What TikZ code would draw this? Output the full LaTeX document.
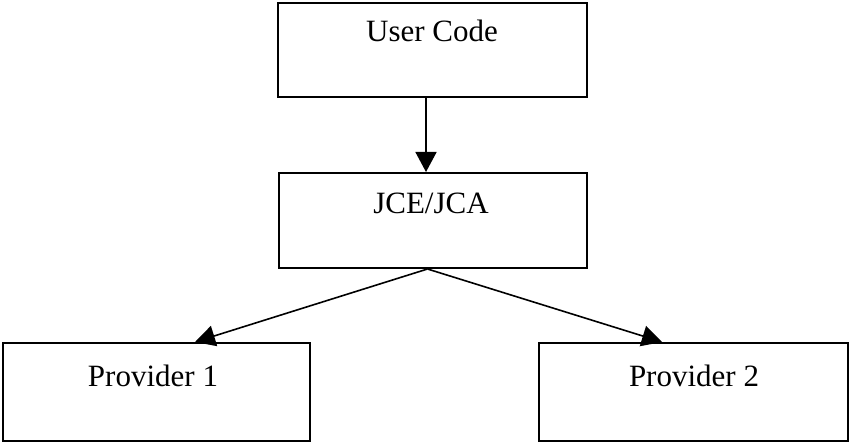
\documentclass[tikz,border=0pt]{standalone}
\usepackage{fontspec}
\setmainfont{Liberation Serif}
\usetikzlibrary{arrows.meta}
\begin{document}
\begin{tikzpicture}[x=1pt,y=-1pt,
  box/.style={draw=black, line width=2pt, fill=white, inner sep=0pt},
  lbl/.style={anchor=base, inner sep=0pt, font=\fontsize{31}{36}\selectfont},
  conn/.style={line width=1.6pt, -{Triangle[length=20pt,width=21pt]}}]
\useasboundingbox (0,0) rectangle (850,443);
\fill[white] (0,0) rectangle (850,443);
\node[box, minimum width=309pt, minimum height=94pt] (uc) at (432.5,50) {};
\node[box, minimum width=308pt, minimum height=95pt] (jce) at (432.5,220.5) {};
\node[box, minimum width=307pt, minimum height=98pt] (p1) at (156.5,392) {};
\node[box, minimum width=309pt, minimum height=98pt] (p2) at (693.5,392) {};
\node[lbl] (tuc) at (432,42) {User Code};
\node[lbl] (tjce) at (431,214) {JCE/JCA};
\node[lbl] (tp1) at (153,386) {Provider 1};
\node[lbl] (tp2) at (694,386) {Provider 2};
\draw[conn] ([xshift=-6.5pt]uc.south) -- ([xshift=-6.5pt]jce.north);
\draw[conn] ([xshift=-5pt]jce.south) -- ([xshift=193pt]p1.north west);
\draw[conn] ([xshift=-5pt]jce.south) -- ([xshift=124pt]p2.north west);
\end{tikzpicture}
\end{document}
